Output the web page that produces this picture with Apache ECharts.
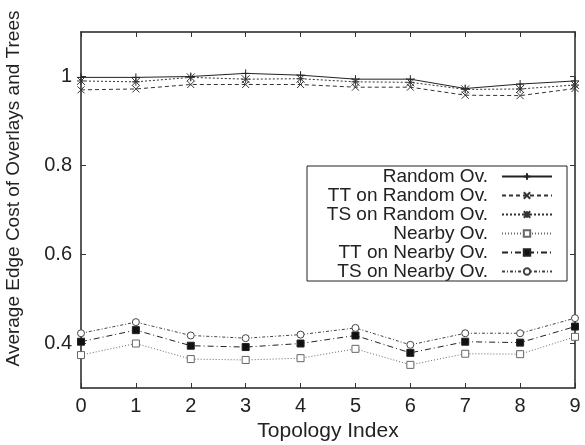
<!DOCTYPE html>
<html>
<head>
<meta charset="utf-8">
<script src="https://cdn.jsdelivr.net/npm/echarts@6/dist/echarts.min.js"></script>
<style>html,body{margin:0;padding:0;background:#fff}#c{width:585px;height:445px}</style>
</head>
<body>
<div id="c"></div>
<script>
const topologyIndex = [0,1,2,3,4,5,6,7,8,9];
const yTicks = [0.4, 0.6, 0.8, 1];
const seriesNames = ['Random Ov.', 'TT on Random Ov.', 'TS on Random Ov.', 'Nearby Ov.', 'TT on Nearby Ov.', 'TS on Nearby Ov.'];
const randomOv      = [0.998, 0.998, 1.000, 1.007, 1.003, 0.994, 0.994, 0.973, 0.983, 0.990];
const ttOnRandomOv  = [0.970, 0.972, 0.982, 0.982, 0.982, 0.976, 0.976, 0.958, 0.957, 0.973];
const tsOnRandomOv  = [0.990, 0.988, 0.998, 0.994, 0.995, 0.988, 0.987, 0.971, 0.972, 0.981];
const nearbyOv      = [0.374, 0.400, 0.365, 0.363, 0.367, 0.388, 0.352, 0.377, 0.376, 0.415];
const ttOnNearbyOv  = [0.404, 0.430, 0.395, 0.392, 0.400, 0.418, 0.379, 0.404, 0.402, 0.438];
const tsOnNearbyOv  = [0.423, 0.448, 0.418, 0.412, 0.420, 0.435, 0.397, 0.423, 0.423, 0.457];

const values = [randomOv, ttOnRandomOv, tsOnRandomOv, nearbyOv, ttOnNearbyOv, tsOnNearbyOv];
const styles = [
  {color:'#222', dash:'solid', symbol:'path://M5,0L5,10M0,5L10,5', size:8, fill:'#222'},
  {color:'#333', dash:[4,3], symbol:'path://M0,0L10,10M0,10L10,0', size:7, fill:'#333'},
  {color:'#333', dash:[2,2], symbol:'path://M0,0L10,10M0,10L10,0M5,0L5,10M0,5L10,5', size:8, fill:'#333'},
  {color:'#666', dash:[1,2], symbol:'rect', size:7, fill:'#fff'},
  {color:'#222', dash:[6,3,1,3], symbol:'rect', size:7, fill:'#111'},
  {color:'#444', dash:[3,2,1,2], symbol:'circle', size:7, fill:'#fff'}
];
const font = 'Liberation Sans, Arial, Helvetica, sans-serif';

const series = seriesNames.map((name, i) => ({
  name: name,
  type: 'line',
  data: topologyIndex.map((x, j) => [x, values[i][j]]),
  symbol: styles[i].symbol,
  symbolSize: styles[i].size,
  showAllSymbol: true,
  lineStyle: {color: styles[i].color, width: 1, type: styles[i].dash},
  itemStyle: {color: styles[i].fill, borderColor: styles[i].color, borderWidth: 1, opacity: 1},
  emphasis: {disabled: true},
  animation: false,
  z: 3
}));

const chart = echarts.init(document.getElementById('c'), null, {renderer: 'canvas'});
chart.setOption({
  animation: false,
  backgroundColor: '#fff',
  grid: {left: 81, top: 32, right: 10, bottom: 57, containLabel: false, outerBoundsMode: 'none'},
  legend: {
    orient: 'vertical',
    left: 307, top: 166,
    align: 'right',
    data: seriesNames,
    itemWidth: 50, itemHeight: 8, itemGap: 0,
    padding: [1, 14, 0, 7],
    borderColor: '#222', borderWidth: 1, backgroundColor: '#fff',
    textStyle: {fontFamily: font, fontSize: 19, color: '#222', width: 174, align: 'right', lineHeight: 19, padding: [0, 9, 0, 0]},
    selectedMode: false
  },
  xAxis: [{
    type: 'value', min: 0, max: 9, interval: 1,
    name: 'Topology Index', nameLocation: 'middle', nameGap: 32,
    nameTextStyle: {fontFamily: font, fontSize: 21, color: '#222'},
    axisLine: {show: true, onZero: false, lineStyle: {color: '#222', width: 1.5}},
    axisTick: {show: true, inside: true, length: 5, lineStyle: {color: '#333'}},
    axisLabel: {fontFamily: font, fontSize: 20, color: '#222', margin: 8},
    splitLine: {show: false}
  }, {
    type: 'value', min: 0, max: 9, interval: 1, position: 'top',
    axisLine: {show: true, onZero: false, lineStyle: {color: '#222', width: 1.5}},
    axisTick: {show: true, inside: true, length: 5, lineStyle: {color: '#333'}},
    axisLabel: {show: false}, splitLine: {show: false}
  }],
  yAxis: [{
    type: 'value', min: 0.3, max: 1.1,
    name: 'Average Edge Cost of Overlays and Trees', nameLocation: 'middle', nameGap: 58,
    nameTextStyle: {fontFamily: font, fontSize: 19, color: '#222', padding: [0, 0, 0, 43]},
    axisLine: {show: true, onZero: false, lineStyle: {color: '#222', width: 1.5}},
    axisTick: {show: true, inside: true, length: 5, customValues: yTicks, lineStyle: {color: '#333'}},
    axisLabel: {fontFamily: font, fontSize: 20, color: '#222', margin: 9, customValues: yTicks},
    splitLine: {show: false}
  }, {
    type: 'value', min: 0.3, max: 1.1, position: 'right',
    axisLine: {show: true, onZero: false, lineStyle: {color: '#222', width: 1.5}},
    axisTick: {show: true, inside: true, length: 5, customValues: yTicks, lineStyle: {color: '#333'}},
    axisLabel: {show: false}, splitLine: {show: false}
  }],
  series: series
});
</script>
</body>
</html>
